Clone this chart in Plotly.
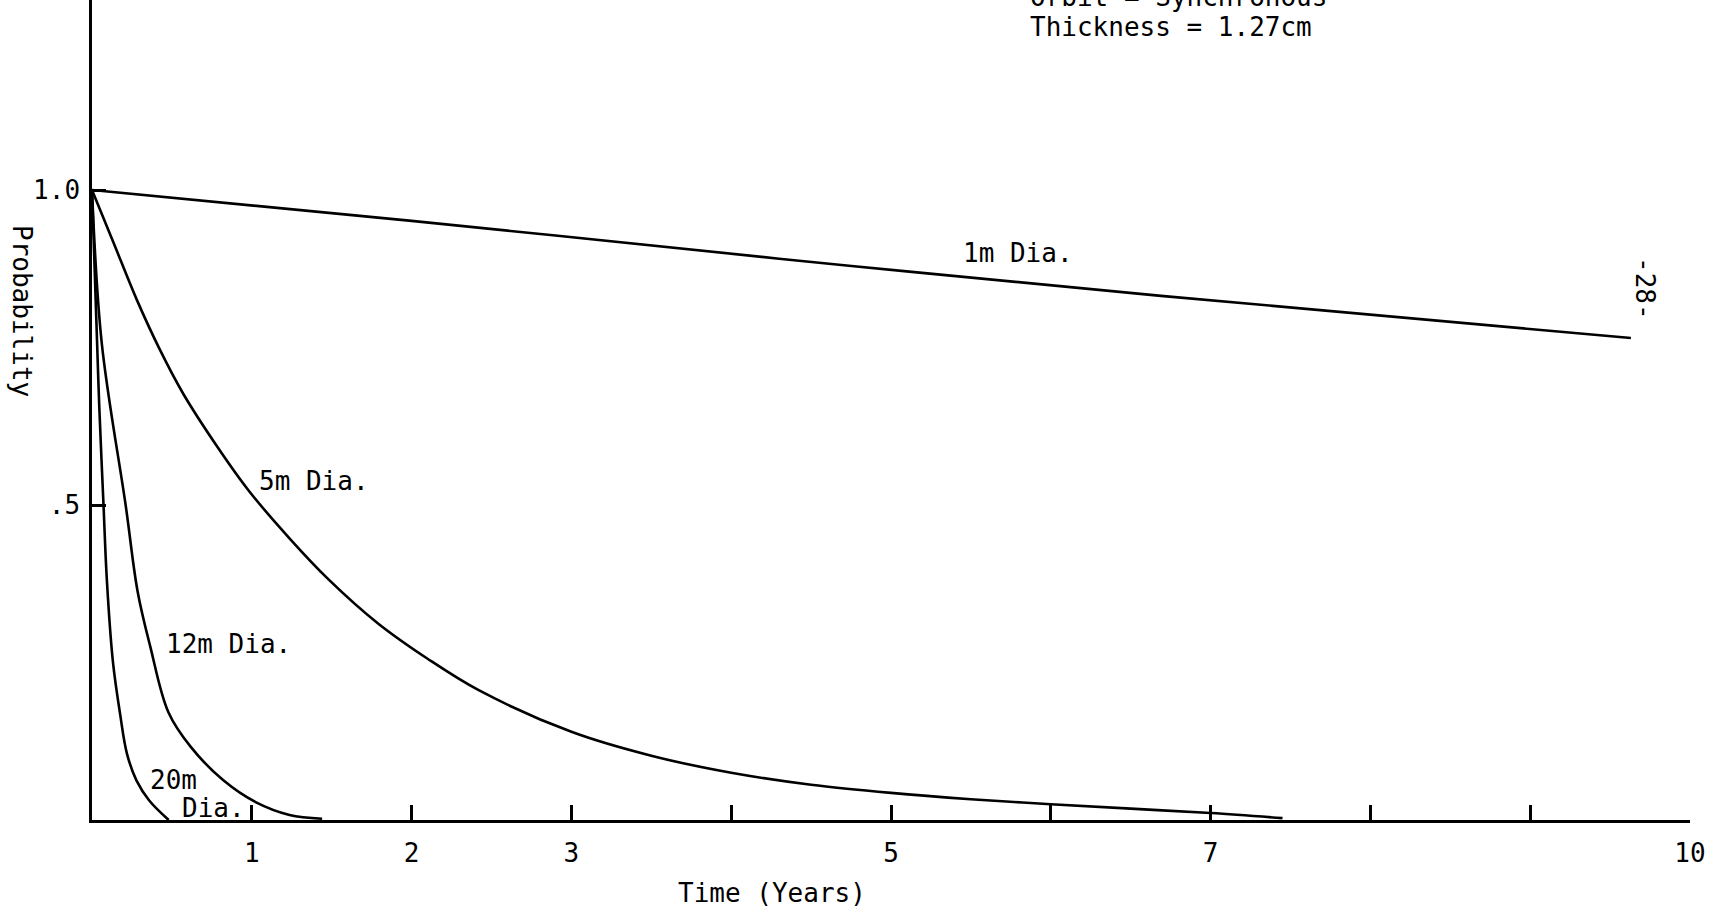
import plotly.graph_objects as go

# ---------------- data ----------------
time_1m = [0.0, 2.0, 4.3, 5.13, 6.69, 9.63]
prob_1m = [1.0, 0.951, 0.891, 0.870, 0.832, 0.765]

time_5m = [0.0, 0.14, 0.28, 0.42, 0.57, 0.78, 0.98, 1.24, 1.48, 1.79, 2.10, 2.42,
           3.0, 3.5, 4.0, 4.5, 5.0, 5.5, 6.0, 6.5, 7.0, 7.45]
prob_5m = [1.0, 0.913, 0.826, 0.749, 0.677, 0.594, 0.523, 0.446, 0.382, 0.312, 0.256, 0.206,
           0.140, 0.102, 0.075, 0.056, 0.043, 0.033, 0.025, 0.018, 0.011, 0.003]

time_12m = [0.0, 0.061, 0.211, 0.286, 0.364, 0.478, 0.618, 0.822, 1.027, 1.236, 1.44]
prob_12m = [1.0, 0.757, 0.499, 0.362, 0.276, 0.171, 0.116, 0.063, 0.028, 0.008, 0.002]

time_20m = [0.0, 0.032, 0.046, 0.072, 0.093, 0.131, 0.176, 0.219, 0.278, 0.358, 0.48]
prob_20m = [1.0, 0.757, 0.653, 0.50, 0.381, 0.251, 0.168, 0.105, 0.063, 0.031, 0.0]

x_tick_vals = [1, 2, 3, 4, 5, 6, 7, 8, 9, 10]
x_tick_text = ["1", "2", "3", "", "5", "", "7", "", "", "10"]
y_tick_vals = [0.5, 1.0]
y_tick_text = [".5", "1.0"]

curve_labels = ["1m Dia.", "5m Dia.", "12m Dia.", "20m", "Dia."]
header_lines = ["Orbit = Synchronous", "Thickness = 1.27cm"]
x_title = "Time (Years)"
y_title = "Probability"
page_mark = "-28-"

# ---------------- layout geometry ----------------
W, H = 1722, 915
L, R, T, B = 92, 32, 0, 95
PW, PH = W - L - R, H - T - B
Y_TOP = 820 / 630.0

FONT = "DejaVu Sans Mono, monospace"
FS = 26


def px(X):
    return (X - L) / PW


def py(Y):
    return (H - B - Y) / PH


fig = go.Figure()
for t, p in [(time_1m, prob_1m), (time_5m, prob_5m), (time_12m, prob_12m), (time_20m, prob_20m)]:
    fig.add_trace(go.Scatter(
        x=t, y=p, mode="lines",
        line=dict(color="black", width=2.6, shape="spline", smoothing=1.0),
        showlegend=False, hoverinfo="skip", cliponaxis=False,
    ))

ann = []


def add_text(text, X, Y, anchor="center", angle=0):
    ann.append(dict(
        text=text, x=px(X), y=py(Y), xref="paper", yref="paper",
        xanchor=anchor, yanchor="middle", showarrow=False, textangle=angle,
        font=dict(family=FONT, size=FS, color="black"),
    ))


add_text(header_lines[0], 1028, -3, anchor="left")
add_text(header_lines[1], 1028, 27, anchor="left")
add_text(curve_labels[0], 1018, 253)
add_text(curve_labels[1], 314, 481)
add_text(curve_labels[2], 228, 644)
add_text(curve_labels[3], 173, 780)
add_text(curve_labels[4], 213, 808)
add_text(page_mark, 1645, 288, angle=90)
add_text(y_title, 22, 311, angle=90)
add_text(x_title, 772, 893)

fig.update_layout(
    width=W, height=H,
    margin=dict(l=L, r=R, t=T, b=B, pad=0),
    plot_bgcolor="white", paper_bgcolor="white",
    font=dict(family=FONT, size=FS, color="black"),
    annotations=ann,
    xaxis=dict(
        range=[0, 10], showline=True, linecolor="black", linewidth=2.5,
        ticks="inside", ticklen=15, tickwidth=2.5, tickcolor="black",
        tickvals=x_tick_vals, ticktext=x_tick_text,
        showgrid=False, zeroline=False, ticklabelstandoff=8,
        tickfont=dict(family=FONT, size=FS, color="black"),
    ),
    yaxis=dict(
        range=[0, Y_TOP], showline=True, linecolor="black", linewidth=2.5,
        ticks="inside", ticklen=14, tickwidth=2.5, tickcolor="black",
        tickvals=y_tick_vals, ticktext=y_tick_text,
        showgrid=False, zeroline=False, ticklabelstandoff=4,
        tickfont=dict(family=FONT, size=FS, color="black"),
    ),
)

fig.write_html("out.html")
